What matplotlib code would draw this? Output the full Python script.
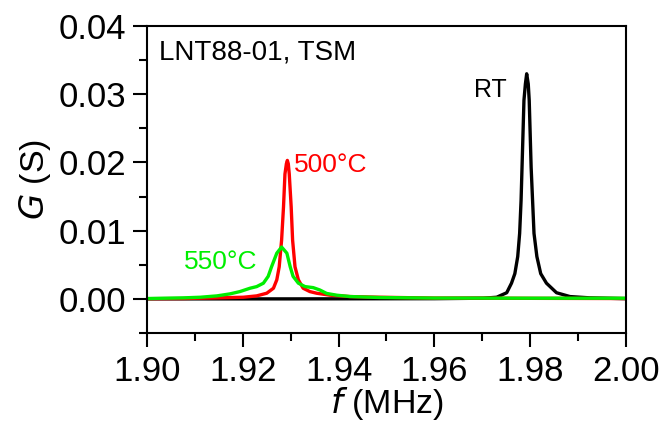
import matplotlib
matplotlib.use("Agg")
import matplotlib.pyplot as plt
from matplotlib.ticker import MultipleLocator, FormatStrFormatter

plt.rcParams['font.family'] = ['Liberation Sans', 'DejaVu Sans']

# RT (black)
f_rt = [1.900, 1.930, 1.960, 1.9702, 1.9730, 1.9751, 1.9761, 1.9768, 1.9774, 1.9778, 1.9781,
        1.9783, 1.9785, 1.9787, 1.9790, 1.97927, 1.9796, 1.9798, 1.9800, 1.9802, 1.9805,
        1.9808, 1.9814, 1.9822, 1.9834, 1.9855, 1.9883, 1.9925, 2.000]
g_rt = [0.0, 0.0, 0.00003, 0.0001, 0.00024, 0.0009, 0.0023, 0.0037, 0.0062, 0.0096, 0.01445,
        0.0193, 0.0242, 0.0291, 0.0315, 0.0330, 0.0315, 0.0291, 0.0242, 0.0193, 0.01445,
        0.0096, 0.0062, 0.0037, 0.0023, 0.0009, 0.00034, 0.00015, 0.00003]

# 500 °C (red)
f_500 = [1.900, 1.9076, 1.9146, 1.9201, 1.9229, 1.9250, 1.9264, 1.9271, 1.9276, 1.9281,
         1.9285, 1.9288, 1.9291, 1.9293, 1.9295, 1.9297, 1.9301, 1.9304, 1.9309, 1.9316,
         1.9326, 1.9340, 1.9354, 1.9382, 1.9424, 1.9486, 1.960, 1.980, 2.000]
g_500 = [0.00003, 0.00005, 0.00015, 0.00024, 0.00044, 0.00083, 0.00156, 0.0028, 0.0047, 0.0086,
         0.0135, 0.0183, 0.0198, 0.0203, 0.0198, 0.0183, 0.0135, 0.0086, 0.0047, 0.0028,
         0.00156, 0.00107, 0.00083, 0.00054, 0.00034, 0.00024, 0.00012, 0.00008, 0.00005]

# 550 °C (green)
f_550 = [1.900, 1.9076, 1.9111, 1.9146, 1.9173, 1.9194, 1.9215, 1.9229, 1.9243, 1.9253,
         1.9260, 1.9271, 1.9281, 1.9292, 1.9299, 1.9305, 1.9316, 1.9330, 1.9347, 1.9361,
         1.9375, 1.9396, 1.9424, 1.9486, 1.960, 1.980, 2.000]
g_550 = [0.00005, 0.00015, 0.00024, 0.00044, 0.00073, 0.00107, 0.00156, 0.0018, 0.0023, 0.0033,
         0.0047, 0.0067, 0.0076, 0.0067, 0.0047, 0.0033, 0.0023, 0.0018, 0.00165, 0.0013,
         0.0008, 0.00054, 0.00034, 0.0002, 0.00012, 0.0001, 0.0001]

fig = plt.figure(figsize=(6.61, 4.25), dpi=100)
ax = fig.add_axes([0.2224, 0.2165, 0.7246, 0.7223])

lw = 2.4
ax.plot(f_rt, g_rt, color='black', lw=lw)
ax.plot(f_500, g_500, color='#ff0000', lw=lw)
ax.plot(f_550, g_550, color='#00ee00', lw=lw)

ax.set_xlim(1.90, 2.00)
ax.set_ylim(-0.005, 0.04)
ax.xaxis.set_major_locator(MultipleLocator(0.02))
ax.xaxis.set_minor_locator(MultipleLocator(0.01))
ax.yaxis.set_major_locator(MultipleLocator(0.01))
ax.yaxis.set_minor_locator(MultipleLocator(0.005))
ax.xaxis.set_major_formatter(FormatStrFormatter('%.2f'))
ax.yaxis.set_major_formatter(FormatStrFormatter('%.2f'))

ax.tick_params(which='major', direction='out', length=10, width=1.5, labelsize=25, pad=5)
ax.tick_params(which='minor', direction='out', length=6, width=1.5)
ax.tick_params(axis='x', which='major', pad=6)
for s in ax.spines.values():
    s.set_linewidth(1.5)

ax.set_xlabel(r'$\it{f}$ (MHz)', fontsize=24.5, labelpad=-2)
ax.set_ylabel(r'$\it{G}$ (S)', fontsize=24.5, labelpad=4)

ax.text(0.024, 0.955, 'LNT88-01, TSM', transform=ax.transAxes, fontsize=20,
        ha='left', va='top')
ax.text(1.9717, 0.0306, 'RT', fontsize=18, ha='center', va='center', color='black')
ax.text(1.9306, 0.0196, '500°C', fontsize=19, ha='left', va='center', color='#ff0000')
ax.text(1.9077, 0.0054, '550°C', fontsize=19, ha='left', va='center', color='#00ee00')

fig.savefig('out.png', dpi=100)
